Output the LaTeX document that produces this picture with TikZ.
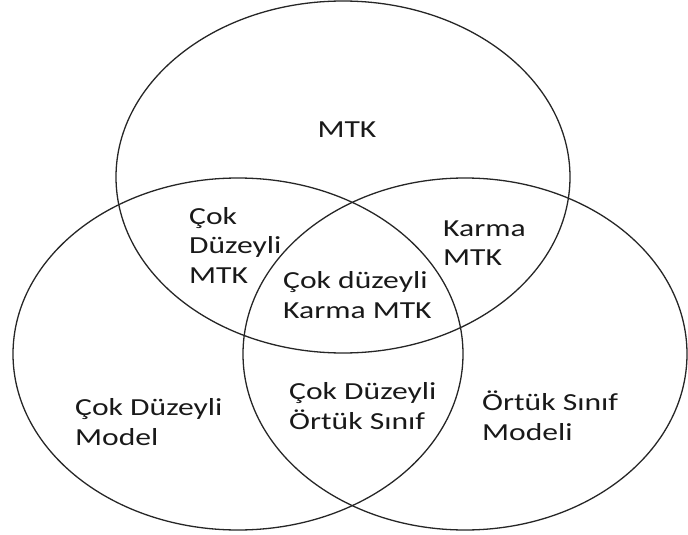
\documentclass[tikz,border=0pt]{standalone}
\usepackage{fontspec}
\setmainfont{Carlito}[FakeStretch=1.29]
\usetikzlibrary{shapes.geometric}
\begin{document}
\begin{tikzpicture}[x=1pt,y=-1pt,
  setring/.style={draw=black!85, line width=1.3pt, ellipse, inner sep=0pt,
    minimum width=#1, minimum height=352pt},
  lbl/.style={align=left, anchor=west, inner sep=0pt,
    font=\fontsize{24.5}{29.5}\selectfont, text=black!90}]
\useasboundingbox (0,0) rectangle (688,535);
\node[setring=454pt] (top) at (343,177) {};
\node[setring=450pt] (left) at (238,354) {};
\node[setring=444pt] (right) at (465,354) {};
\node[lbl, anchor=center] (mtk) at (347,130) {MTK};
\node[lbl] (cdm) at (189,245) {Çok\\Düzeyli\\MTK};
\node[lbl] (kmtk) at (443,243) {Karma\\MTK};
\node[lbl] (cdkm) at (283,295) {Çok düzeyli\\Karma MTK};
\node[lbl] (cdmod) at (75,422) {Çok Düzeyli\\Model};
\node[lbl] (cdos) at (289,406) {Çok Düzeyli\\Örtük Sınıf};
\node[lbl] (osm) at (482,416) {Örtük Sınıf\\Modeli};
\end{tikzpicture}
\end{document}
